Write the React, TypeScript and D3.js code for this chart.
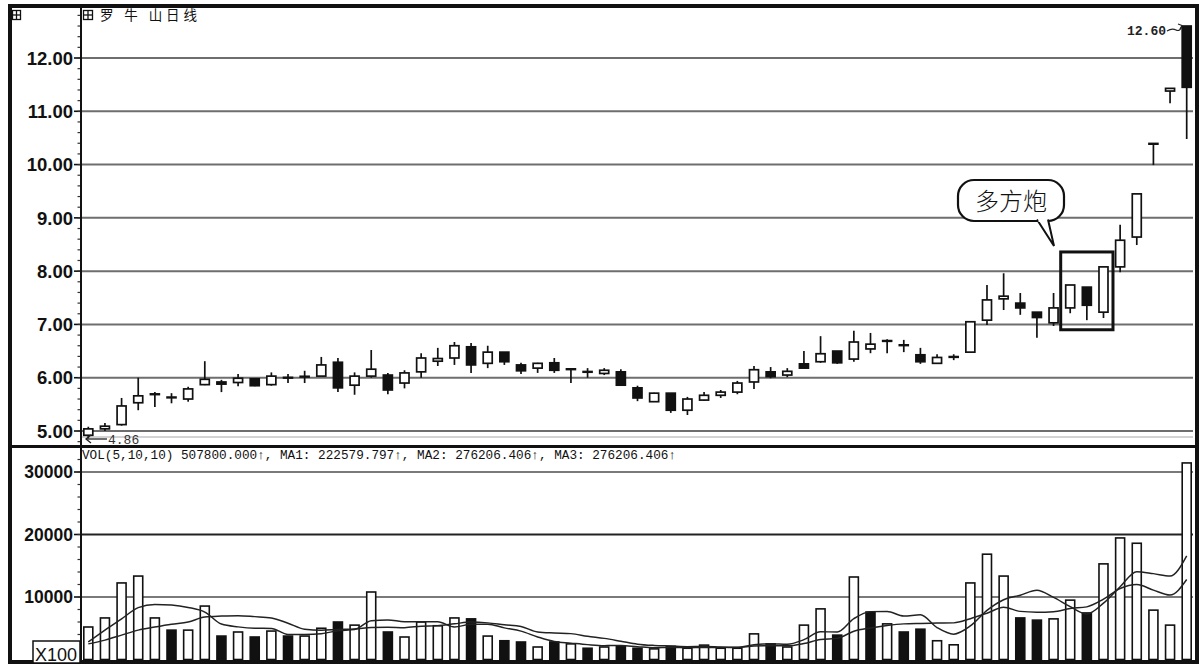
import React from 'react';
import * as d3 from 'd3';

// ---- data ----
const opens = [4.92,5.04,5.12,5.53,5.68,5.63,5.60,5.87,5.92,5.91,5.98,5.87,6.00,6.00,6.03,6.29,5.86,6.03,6.05,5.90,6.11,6.31,6.37,6.58,6.27,6.48,6.24,6.18,6.28,6.16,6.11,6.08,6.11,5.81,5.55,5.71,5.39,5.58,5.67,5.73,5.92,6.11,6.05,6.26,6.30,6.50,6.35,6.54,6.69,6.61,6.43,6.27,6.37,6.48,7.08,7.48,7.40,7.23,7.03,7.31,7.70,7.23,8.08,8.64,10.39,11.38,12.60];
const highs = [5.08,5.15,5.62,6.00,5.73,5.71,5.83,6.31,5.96,6.07,5.98,6.10,6.07,6.13,6.39,6.37,6.10,6.52,6.09,6.14,6.46,6.56,6.67,6.65,6.60,6.48,6.28,6.28,6.37,6.16,6.18,6.18,6.16,5.85,5.72,5.71,5.64,5.73,5.77,5.94,6.22,6.20,6.18,6.50,6.78,6.50,6.88,6.84,6.72,6.71,6.56,6.44,6.44,7.06,7.74,7.96,7.59,7.23,7.59,7.74,7.70,8.08,8.87,9.45,10.39,11.43,12.60];
const lows = [4.86,5.00,5.10,5.39,5.45,5.52,5.55,5.86,5.73,5.84,5.84,5.85,5.90,5.90,6.03,5.73,5.68,6.00,5.69,5.80,6.00,6.22,6.24,6.09,6.18,6.24,6.07,6.09,6.09,5.90,6.00,6.05,5.86,5.56,5.55,5.34,5.30,5.57,5.62,5.69,5.79,5.99,6.01,6.18,6.28,6.26,6.30,6.46,6.46,6.48,6.26,6.26,6.33,6.48,6.99,7.27,7.18,6.75,6.97,7.21,7.08,7.12,7.98,8.49,9.99,11.15,10.48];
const closes = [5.04,5.09,5.47,5.66,5.69,5.62,5.79,5.97,5.88,5.99,5.85,6.03,6.00,6.02,6.24,5.81,6.03,6.16,5.77,6.09,6.37,6.36,6.60,6.24,6.48,6.30,6.13,6.27,6.14,6.16,6.11,6.14,5.86,5.62,5.71,5.39,5.60,5.67,5.73,5.90,6.15,6.02,6.12,6.18,6.45,6.28,6.67,6.63,6.69,6.60,6.30,6.38,6.39,7.05,7.46,7.53,7.31,7.13,7.31,7.74,7.36,8.08,8.58,9.45,10.39,11.43,11.45];
const volumes = [5200,6650,12250,13350,6650,4700,4700,8550,3750,4400,3600,4550,3750,3750,5000,6000,5500,10800,4400,3600,6000,5400,6650,6500,3750,3000,2800,2000,2800,2500,1800,2000,2100,1800,1700,2100,1800,2300,1800,1800,4100,2500,2000,5500,8100,3900,13200,7600,5700,4400,4850,3000,2350,12250,16850,13350,6650,6300,6500,9500,7450,15300,19450,18600,7900,5500,31450];
const volDown = [0,0,0,0,0,1,0,0,1,0,1,0,1,0,0,1,0,0,1,0,0,0,0,1,0,1,1,0,1,0,1,0,1,1,0,1,0,0,0,0,0,1,0,0,0,1,0,1,0,1,1,0,0,0,0,0,1,1,0,0,1,0,0,0,0,0,0];
const ma5 = [2800,4700,6500,8300,8820,8720,8330,7590,5670,5220,5000,4970,4010,4010,4130,4610,4800,6210,6340,6060,6060,6040,5210,5630,5660,5060,4540,3610,2870,2620,2380,2220,2240,2040,1880,1940,1900,1940,1940,1960,2360,2500,2440,3180,4440,4400,6540,7660,7700,6960,7150,5110,4060,5370,7860,9560,10290,11080,9930,8460,7280,9010,11640,14060,13740,13350,16580];
const ma10 = [2500,3100,3900,4700,5200,5650,6000,6800,6950,7020,6860,6650,5800,4840,4675,4805,4885,5110,5175,5095,5335,5420,5710,5985,5860,5560,5290,4410,4250,4140,3720,3380,2925,2455,2250,2160,2060,2090,1990,1920,2150,2200,2190,2560,3200,3380,4520,5050,5440,5700,5775,5825,5860,6535,7410,8355,7700,7570,7650,8160,8420,9650,11360,11995,11100,10315,12795];
const priceTicks = [5, 6, 7, 8, 9, 10, 11, 12];
const volTicks = [10000, 20000, 30000];
const titleText = '罗 牛 山日线';
const volText = 'VOL(5,10,10) 507800.000↑, MA1: 222579.797↑, MA2: 276206.406↑, MA3: 276206.406↑';
const lowLabel = '4.86';
const highLabel = '12.60';
const calloutText = '多方炮';
const unitText = 'X100';

const dayIndex = closes.map((_, i) => i);

export default function App() {
  const W = 1203, H = 664;
  const xL = 81, xR = 1193;
  const x = d3.scalePoint<number>().domain(dayIndex).range([88.3, 1186.7]);
  const bw = 10.6;
  const yP = d3.scaleLinear().domain([5, 12]).range([431, 58]);
  const yV = d3.scaleLinear().domain([0, 30000]).range([659.5, 472]);

  const priceMinor = d3.range(4.8, 12.81, 0.2);
  const volMinor = d3.range(0, 34001, 2000);

  const line = d3.line<number>()
    .x((_, i) => x(i) as number)
    .y((v) => yV(v))
    .curve(d3.curveMonotoneX);

  const lastI = closes.length - 1;
  const labelFont = '"Liberation Sans", Arial, sans-serif';
  const monoFont = '"Liberation Mono", "DejaVu Sans Mono", monospace';

  return (
    <svg width={W} height={H} style={{ position: 'absolute', left: 0, top: 0, background: '#fff' }}>
      <rect x={0} y={0} width={W} height={H} fill="#fff" />
      <defs>
        <clipPath id="unitClip"><rect x={33} y={641} width={47} height={20} /></clipPath>
      </defs>

      {/* price gridlines */}
      {priceTicks.map((t) => (
        <line key={'pg' + t} x1={xL} x2={xR} y1={yP(t)} y2={yP(t)} stroke="#6e6e6e" strokeWidth={2} />
      ))}
      <line x1={xL} x2={xR} y1={437} y2={437} stroke="#c4c4c4" strokeWidth={1.5} />

      {/* volume gridlines */}
      {volTicks.map((t) => (
        <line key={'vg' + t} x1={xL} x2={xR} y1={yV(t)} y2={yV(t)} stroke={t === 20000 ? '#222' : '#7a7a7a'} strokeWidth={t === 20000 ? 1.8 : 2} />
      ))}

      {/* price axis labels & ticks */}
      {priceTicks.map((t) => (
        <g key={'pl' + t}>
          <text x={73} y={yP(t)} dy="0.36em" textAnchor="end" fontFamily={labelFont} fontWeight="bold" fontSize={18.5} fill="#111">{t.toFixed(2)}</text>
          <line x1={74} x2={81} y1={yP(t)} y2={yP(t)} stroke="#111" strokeWidth={1.6} />
        </g>
      ))}
      {priceMinor.map((t, i) => (
        <line key={'pm' + i} x1={77.5} x2={81} y1={yP(t)} y2={yP(t)} stroke="#333" strokeWidth={1.2} />
      ))}

      {/* volume axis labels & ticks */}
      {volTicks.map((t) => (
        <g key={'vl' + t}>
          <text x={73} y={yV(t)} dy="0.36em" textAnchor="end" fontFamily={labelFont} fontWeight="bold" fontSize={17.5} fill="#111">{String(t)}</text>
          <line x1={74} x2={81} y1={yV(t)} y2={yV(t)} stroke="#111" strokeWidth={1.6} />
        </g>
      ))}
      {volMinor.map((t, i) => (
        <line key={'vm' + i} x1={77.5} x2={81} y1={yV(t)} y2={yV(t)} stroke="#333" strokeWidth={1.2} />
      ))}

      {/* candles */}
      {dayIndex.map((i) => {
        const cx = x(i) as number;
        const o = opens[i], c = closes[i];
        const up = c >= o;
        const top = yP(Math.max(o, c));
        const bot = yP(Math.min(o, c));
        const hgt = bot - top;
        return (
          <g key={'c' + i}>
            <line x1={cx} x2={cx} y1={yP(highs[i])} y2={yP(lows[i])} stroke="#111" strokeWidth={1.7} />
            {hgt < 1.5 ? (
              <line x1={cx - bw / 2} x2={cx + bw / 2} y1={top} y2={top} stroke="#111" strokeWidth={2.4} />
            ) : (
              <rect x={cx - bw / 2 + 0.8} y={top} width={bw - 1.6} height={hgt} fill={up ? '#fff' : '#111'} stroke="#111" strokeWidth={1.7} />
            )}
          </g>
        );
      })}

      {/* volume bars */}
      {dayIndex.map((i) => {
        const cx = x(i) as number;
        const yt = yV(volumes[i]);
        return (
          <rect key={'v' + i} x={cx - bw / 2 + 0.8} y={yt} width={bw - 1.6} height={659.5 - yt}
            fill={volDown[i] ? '#111' : '#fff'} stroke="#111" strokeWidth={1.6} />
        );
      })}

      {/* moving averages */}
      <path d={line(ma10) || ''} fill="none" stroke="#222" strokeWidth={1.5} />
      <path d={line(ma5) || ''} fill="none" stroke="#222" strokeWidth={1.5} />

      {/* frame, axis and separators */}
      <line x1={xL} x2={xL} y1={6} y2={662} stroke="#111" strokeWidth={2} />
      <line x1={10} x2={1197} y1={446.5} y2={446.5} stroke="#111" strokeWidth={3} />
      <rect x={10} y={6} width={1187} height={656} fill="none" stroke="#111" strokeWidth={4} />

      {/* corner and title icons */}
      <g stroke="#111" strokeWidth={1.3} fill="none">
        <rect x={12.5} y={10.5} width={8} height={9} />
        <line x1={12.5} x2={20.5} y1={15} y2={15} />
        <line x1={16.5} x2={16.5} y1={10.5} y2={19.5} />
        <rect x={83.5} y={10.5} width={9} height={9} />
        <line x1={83.5} x2={92.5} y1={15} y2={15} />
        <line x1={88} x2={88} y1={10.5} y2={19.5} />
      </g>
      <text x={100} y={20} fontFamily='"Noto Sans CJK SC", sans-serif' fontSize={13.5} fill="#111" textLength={97} lengthAdjust="spacing">{titleText}</text>

      {/* low label */}
      <g stroke="#222" strokeWidth={1.3} fill="none">
        <line x1={86} x2={107} y1={439} y2={439} />
        <polyline points="91,435 86,439 91,443" />
      </g>
      <text x={108} y={443.5} fontFamily={monoFont} fontSize={13} fill="#333">{lowLabel}</text>

      {/* high label */}
      <text x={1127} y={35} fontFamily={monoFont} fontSize={13} fontWeight="bold" fill="#222">{highLabel}</text>
      <g stroke="#222" strokeWidth={1.2} fill="none">
        <path d="M1167,31 Q1172,28 1176,30 T1182,26" />
        <polyline points="1178,24 1182,25.5 1180,29" />
      </g>

      {/* VOL caption */}
      <text x={82} y={459} fontFamily={monoFont} fontSize={13} fill="#111" textLength={594} lengthAdjust="spacingAndGlyphs">{volText}</text>

      {/* unit box */}
      <rect x={33} y={641} width={47} height={22} fill="#fff" stroke="#111" strokeWidth={1.5} />
      <text x={35} y={661} fontFamily={labelFont} fontSize={18} fill="#111" clipPath="url(#unitClip)">{unitText}</text>

      {/* highlight box around the three candles */}
      <rect x={(x(59) as number) - 9.5} y={yP(8.36)} width={(x(61) as number) - (x(59) as number) + 19} height={yP(6.9) - yP(8.36)}
        fill="none" stroke="#111" strokeWidth={3} />

      {/* callout bubble */}
      <rect x={958} y={180} width={106} height={41} rx={16} ry={16} fill="#fff" stroke="#111" strokeWidth={2.2} />
      <path d="M1037,219.5 L1054,246 L1048,219.5" fill="#fff" stroke="#111" strokeWidth={2} />
      <line x1={1038.5} x2={1046.5} y1={220.5} y2={220.5} stroke="#fff" strokeWidth={3} />
      <text x={1011} y={201} dy="0.36em" textAnchor="middle" fontFamily='"Noto Sans CJK SC", sans-serif' fontWeight={300} fontSize={24} fill="#111">{calloutText}</text>
    </svg>
  );
}
